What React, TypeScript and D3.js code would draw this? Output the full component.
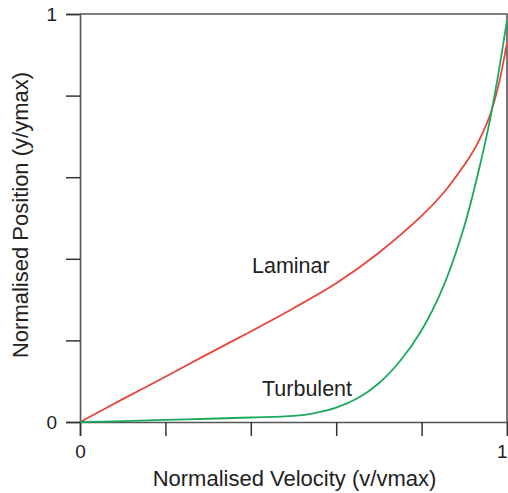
import React, { useRef, useEffect } from 'react';
import * as d3 from 'd3';

// velocity (v/vmax) samples and normalised position for each profile
const laminarV = [0, 0.1, 0.2, 0.3, 0.4, 0.5, 0.6, 0.7, 0.8, 0.85, 0.9, 0.92, 0.94, 0.96, 0.98, 1.0];
const laminarY = [0, 0.056, 0.111, 0.167, 0.222, 0.279, 0.34, 0.415, 0.505, 0.56, 0.63, 0.662, 0.702, 0.752, 0.825, 0.93];

const turbulentV = [0, 0.1, 0.2, 0.3, 0.4, 0.5, 0.55, 0.6, 0.65, 0.7, 0.75, 0.8, 0.85, 0.9, 0.93, 0.96, 0.98, 1.0];
const turbulentY = [0, 0.002, 0.005, 0.008, 0.011, 0.015, 0.022, 0.035, 0.058, 0.095, 0.15, 0.225, 0.33, 0.48, 0.6, 0.74, 0.855, 0.985];

const tickValues = [0, 0.2, 0.4, 0.6, 0.8, 1];

const W = 508;
const H = 493;
const FONT = 'Liberation Sans, Arial, sans-serif';

export default function App() {
  const ref = useRef<SVGSVGElement | null>(null);

  useEffect(() => {
    if (!ref.current) return;
    const svg = d3.select(ref.current);
    svg.selectAll('*').remove();

    const x = d3.scaleLinear().domain([0, 1]).range([80, 507]);
    const y = d3.scaleLinear().domain([0, 1]).range([422, 14]);

    const fmt = (d: any) => (d === 0 || d === 1 ? String(d) : '');

    // box (top + right)
    svg.append('path')
      .attr('d', `M${x(0)},${y(1)}H${x(1)}V${y(0)}`)
      .attr('fill', 'none')
      .attr('stroke', '#555')
      .attr('stroke-width', 1.6);

    const gx = svg.append('g')
      .attr('transform', `translate(0,${y(0)})`)
      .call(d3.axisBottom(x).tickValues(tickValues).tickFormat(fmt).tickSize(14).tickPadding(9));
    const gy = svg.append('g')
      .attr('transform', `translate(${x(0)},0)`)
      .call(d3.axisLeft(y).tickValues(tickValues).tickFormat(fmt).tickSize(14).tickPadding(9));

    [gx, gy].forEach(g => {
      g.select('.domain').attr('stroke', '#555').attr('stroke-width', 1.6);
      g.selectAll('.tick line').attr('stroke', '#333').attr('stroke-width', 1.5);
      g.selectAll('.tick text')
        .attr('fill', '#222')
        .style('font-family', FONT)
        .style('font-size', '19px');
    });
    // the "1" at the right edge sits against the border
    gx.selectAll('.tick text').filter((d: any) => d === 1).attr('text-anchor', 'end').attr('dx', 0);

    const line = d3.line<[number, number]>()
      .x(d => x(d[0]))
      .y(d => y(d[1]))
      .curve(d3.curveCatmullRom.alpha(0.5));

    svg.append('path')
      .datum(laminarV.map((v, i) => [v, laminarY[i]] as [number, number]))
      .attr('d', line)
      .attr('fill', 'none')
      .attr('stroke', '#e8443a')
      .attr('stroke-width', 1.8);

    svg.append('path')
      .datum(turbulentV.map((v, i) => [v, turbulentY[i]] as [number, number]))
      .attr('d', line)
      .attr('fill', 'none')
      .attr('stroke', '#1aaa5c')
      .attr('stroke-width', 1.8);

    const label = (txt: string, lx: number, ly: number) =>
      svg.append('text')
        .attr('x', lx)
        .attr('y', ly)
        .attr('fill', '#222')
        .style('font-family', FONT)
        .style('font-size', '21.5px')
        .text(txt);

    label('Laminar', 252, 273);
    label('Turbulent', 262, 396);

    svg.append('text')
      .attr('x', 294.5)
      .attr('y', 486)
      .attr('text-anchor', 'middle')
      .attr('fill', '#222')
      .style('font-family', FONT)
      .style('font-size', '22px')
      .text('Normalised Velocity (v/vmax)');

    svg.append('text')
      .attr('transform', `translate(28,215) rotate(-90)`)
      .attr('text-anchor', 'middle')
      .attr('fill', '#222')
      .style('font-family', FONT)
      .style('font-size', '22px')
      .text('Normalised Position (y/ymax)');
  }, []);

  return (
    <svg
      ref={ref}
      width={W}
      height={H}
      style={{ position: 'absolute', left: 0, top: 0, background: '#fff' }}
    />
  );
}
